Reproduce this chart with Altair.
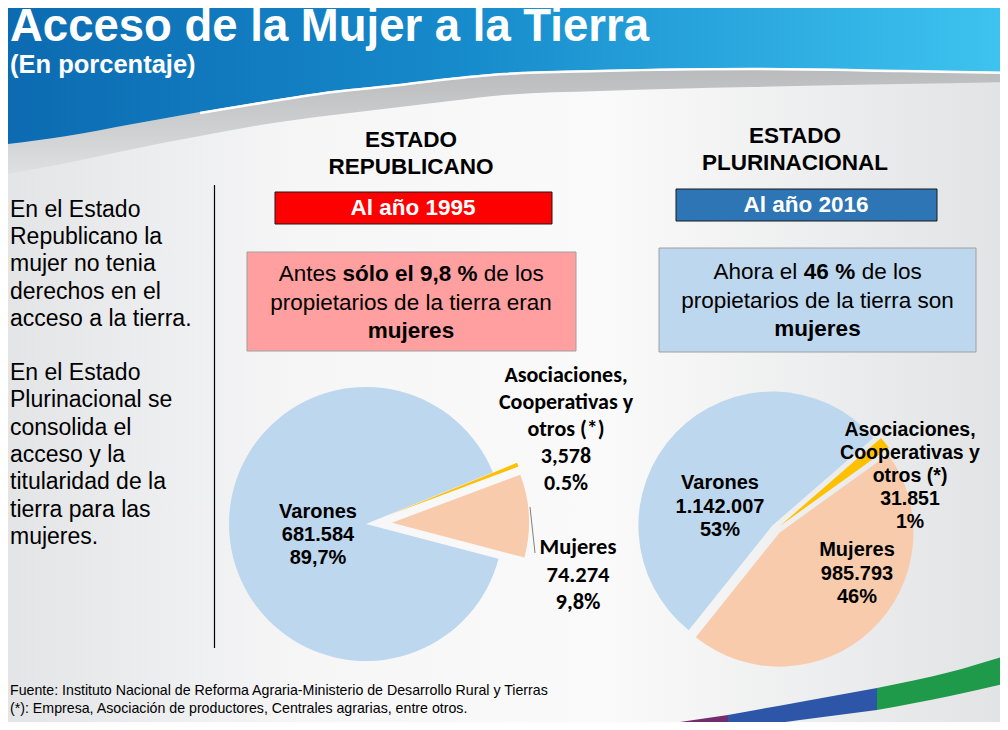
import altair as alt
import pandas as pd

# ---------------- data ----------------
categories = ["Asociaciones", "Mujeres", "Varones"]
values_1995 = [3578, 74274, 681584]
values_2016 = [31851, 985793, 1142007]
slice_colors = ["#ffc000", "#f8cbad", "#bdd7ee"]

title_text = "Acceso de la Mujer a la Tierra"
subtitle_text = "(En porcentaje)"
left_heading = ["ESTADO", "REPUBLICANO"]
right_heading = ["ESTADO", "PLURINACIONAL"]
left_year = "Al año 1995"
right_year = "Al año 2016"
side_text_1 = ["En el Estado", "Republicano la", "mujer no tenia", "derechos en el", "acceso a la tierra."]
side_text_2 = ["En el Estado", "Plurinacional se", "consolida el", "acceso y la",
               "titularidad de la", "tierra para las", "mujeres."]
box1_line1 = ["Antes", "sólo el 9,8 %", "de los"]
box1_line2 = "propietarios de la tierra eran"
box1_line3 = "mujeres"
box2_line1 = ["Ahora el", "46 %", "de los"]
box2_line2 = "propietarios de la tierra son"
box2_line3 = "mujeres"
labels_1995_varones = ["Varones", "681.584", "89,7%"]
labels_1995_mujeres = ["Mujeres", "74.274", "9,8%"]
labels_1995_asoc = ["Asociaciones,", "Cooperativas y", "otros (*)", "3,578", "0.5%"]
labels_2016_varones = ["Varones", "1.142.007", "53%"]
labels_2016_mujeres = ["Mujeres", "985.793", "46%"]
labels_2016_asoc = ["Asociaciones,", "Cooperativas y", "otros (*)", "31.851", "1%"]
footnotes = ["Fuente: Instituto Nacional de Reforma Agraria-Ministerio de Desarrollo Rural y Tierras",
             "(*): Empresa, Asociación de productores, Centrales agrarias, entre otros."]

# ---------------- decoration outlines ----------------
header_x = [0, 67, 133, 200, 267, 333, 400, 450, 504, 600, 750, 900, 1008]
header_blue_edge = [145, 136, 124, 112, 101, 91, 84, 78, 73, 70, 68, 70, 72]
header_gray_edge = [175, 163, 149, 136, 124, 115, 107, 101, 95, 91, 87, 84, 82]
band_purple_x = [680, 728]
band_purple_top = [722, 715]
band_purple_bot = [735, 730]
band_blue_x = [728, 800, 877]
band_blue_top = [715, 702, 688]
band_blue_bot = [730, 720, 710]
band_green_x = [877, 950, 1008]
band_green_top = [688, 672, 655]
band_green_bot = [710, 696, 683]

W, H = 992, 714
OFF = 8
ARIAL = "Liberation Sans, Arial, Helvetica, sans-serif"
CALIB = "Carlito, Lato, Liberation Sans, sans-serif"


def R(v):
    return v - OFF


one = pd.DataFrame({"a": [0]})


def lin_grad(stops, horizontal=True):
    return alt.LinearGradient(
        gradient="linear",
        stops=[alt.GradientStop(offset=o, color=c) for o, c in stops],
        x1=0, x2=1 if horizontal else 0, y1=0, y2=0 if horizontal else 1,
    )


def rect(x1, y1, x2, y2, fill, stroke=None, sw=1.0):
    kw = dict(fill=fill)
    if stroke:
        kw.update(stroke=stroke, strokeWidth=sw)
    return alt.Chart(one).mark_rect(**kw).encode(
        x=alt.value(R(x1)), x2=alt.value(R(x2)), y=alt.value(R(y1)), y2=alt.value(R(y2))
    )


def txt(lines, x, y, size, weight="normal", color="#000000", align="center",
        font=ARIAL, lh=None, baseline="middle"):
    """y is the position of the first line."""
    s = "\n".join(lines) if isinstance(lines, list) else lines
    return alt.Chart(pd.DataFrame({"t": [s]})).mark_text(
        align=align, baseline=baseline, font=font, fontSize=size, fontWeight=weight,
        color=color, lineBreak="\n", lineHeight=lh if lh else size * 1.2,
    ).encode(x=alt.value(R(x)), y=alt.value(R(y)), text="t:N")


def area(xs, top, bot, fill, interp="monotone"):
    df = pd.DataFrame({"x": [R(v) for v in xs], "y0": [R(v) for v in top], "y1": [R(v) for v in bot]})
    return alt.Chart(df).mark_area(fill=fill, interpolate=interp).encode(
        x=alt.X("x:Q", scale=None), y=alt.Y("y0:Q", scale=None), y2="y1:Q"
    )


def pie(values, cx, cy, r, start_deg, explode):
    df = pd.DataFrame({"cat": categories, "value": values, "order": [0, 1, 2]})
    ex_expr = (f"datum.cat === 'Asociaciones' ? {explode[0]} : "
               f"datum.cat === 'Mujeres' ? {explode[1]} : {explode[2]}")
    start = start_deg * 3.141592653589793 / 180
    return alt.Chart(df).transform_joinaggregate(
        total="sum(value)"
    ).transform_window(
        cum="sum(value)", sort=[alt.SortField("order")]
    ).transform_calculate(
        t1=f"{start} + 2*PI*datum.cum/datum.total",
        t0="datum.t1 - 2*PI*datum.value/datum.total",
        mid="(datum.t0 + datum.t1)/2",
        ex=ex_expr,
        px=f"{R(cx)} + datum.ex*sin(datum.mid)",
        py=f"{R(cy)} - datum.ex*cos(datum.mid)",
    ).mark_arc(radius=r).encode(
        x=alt.X("px:Q", scale=None),
        y=alt.Y("py:Q", scale=None),
        theta=alt.Theta("t0:Q", scale=None),
        theta2="t1:Q",
        color=alt.Color("cat:N", scale=alt.Scale(domain=categories, range=slice_colors), legend=None),
    )


layers = []
# background
layers.append(rect(0, 0, 1008, 730, lin_grad([(0, "#e3e4e6"), (0.3, "#f6f6f7"), (0.6, "#fafafa"), (1, "#e2e3e5")])))
# header
layers.append(area(header_x, header_blue_edge, header_gray_edge,
                   lin_grad([(0, "#b9babc"), (1, "#dfe0e2")], horizontal=False)))
layers.append(area(header_x, [0] * len(header_x), header_blue_edge,
                   lin_grad([(0, "#0c6ab1"), (0.45, "#168acb"), (1, "#3ec4f0")])))
wl = pd.DataFrame({"x": [R(v) for v in header_x[3:]], "y": [R(v + 1) for v in header_blue_edge[3:]]})
layers.append(alt.Chart(wl).mark_line(color="white", strokeWidth=2.5, interpolate="monotone").encode(
    x=alt.X("x:Q", scale=None), y=alt.Y("y:Q", scale=None)))

# bottom band
layers.append(area(band_purple_x, band_purple_top, band_purple_bot, "#722d6e", "linear"))
layers.append(area(band_blue_x, band_blue_top, band_blue_bot, "#2e56a8"))
layers.append(area(band_green_x, band_green_top, band_green_bot, "#1f9a4a"))

# titles
layers.append(txt(title_text, 10, 41, 45.5, "bold", "white", "left", baseline="alphabetic"))
layers.append(txt(subtitle_text, 10, 73, 25.5, "bold", "white", "left", baseline="alphabetic"))

# headings
layers.append(txt(left_heading, 411, 140, 22.5, "bold", lh=27))
layers.append(txt(right_heading, 795, 136, 22.5, "bold", lh=27))

# year boxes
layers.append(rect(275, 192, 552, 224, "#ff0000", "#1a1a1a", 1))
layers.append(txt(left_year, 413, 208, 22.5, "bold", "white"))
layers.append(rect(676, 189, 937, 221, "#2e75b6", "#1a1a1a", 1))
layers.append(txt(right_year, 806, 205, 22.5, "bold", "white"))

# comment boxes
layers.append(rect(247, 252, 576, 351, "#ff9f9f", "#a0a0a0", 1))
layers.append(txt(box1_line1[0], 336.3, 274, 22.5, align="right"))
layers.append(txt(box1_line1[1], 410, 274, 22.5, "bold"))
layers.append(txt(box1_line1[2], 483.7, 274, 22.5, align="left"))
layers.append(txt(box1_line2, 411, 303, 22.5))
layers.append(txt(box1_line3, 411, 331, 22.5, "bold"))

layers.append(rect(659, 248, 976, 352, "#bdd7ee", "#a0a0a0", 1))
layers.append(txt(box2_line1[0], 797.3, 272, 22.5, align="right"))
layers.append(txt(box2_line1[1], 829.5, 272, 22.5, "bold"))
layers.append(txt(box2_line1[2], 861.7, 272, 22.5, align="left"))
layers.append(txt(box2_line2, 817.5, 301, 22.5))
layers.append(txt(box2_line3, 817.5, 329, 22.5, "bold"))

# side text and divider
layers.append(txt(side_text_1, 10, 210, 23, align="left", lh=27.2))
layers.append(txt(side_text_2, 10, 373, 23, align="left", lh=27.3))
layers.append(alt.Chart(one).mark_rule(color="#000000", strokeWidth=1.2).encode(
    x=alt.value(R(214.5)), y=alt.value(R(185)), y2=alt.value(R(648))))

# pies
layers.append(pie(values_1995, 366, 524, 137, 67.8, [26, 26, 0]))
layers.append(pie(values_2016, 776, 529, 134, 49, [5, 5, 5]))

# leader line
layers.append(alt.Chart(one).mark_rule(color="#7f7f7f", strokeWidth=1).encode(
    x=alt.value(R(530)), y=alt.value(R(507)), x2=alt.value(R(535)), y2=alt.value(R(553))))

# pie labels
layers.append(txt(labels_1995_varones, 318, 512, 20, "bold", lh=23))
layers.append(txt(labels_1995_asoc, 566, 375, 22, "bold", font=CALIB, lh=27))
layers.append(txt(labels_1995_mujeres, 578, 547, 22.5, "bold", font=CALIB, lh=27.5))
layers.append(txt(labels_2016_varones, 720, 483, 20, "bold", lh=23.5))
layers.append(txt(labels_2016_asoc, 910, 430, 19.5, "bold", lh=23))
layers.append(txt(labels_2016_mujeres, 857, 550, 20, "bold", lh=23.5))

# footnotes
layers.append(txt(footnotes, 10, 691, 14.2, align="left", lh=18))

chart = alt.layer(*layers).properties(
    width=W, height=H, autosize=alt.AutoSizeParams(type="none"), padding=0
).configure_view(strokeWidth=0)

chart.save("out.html", embed_options={"renderer": "svg", "actions": False})
